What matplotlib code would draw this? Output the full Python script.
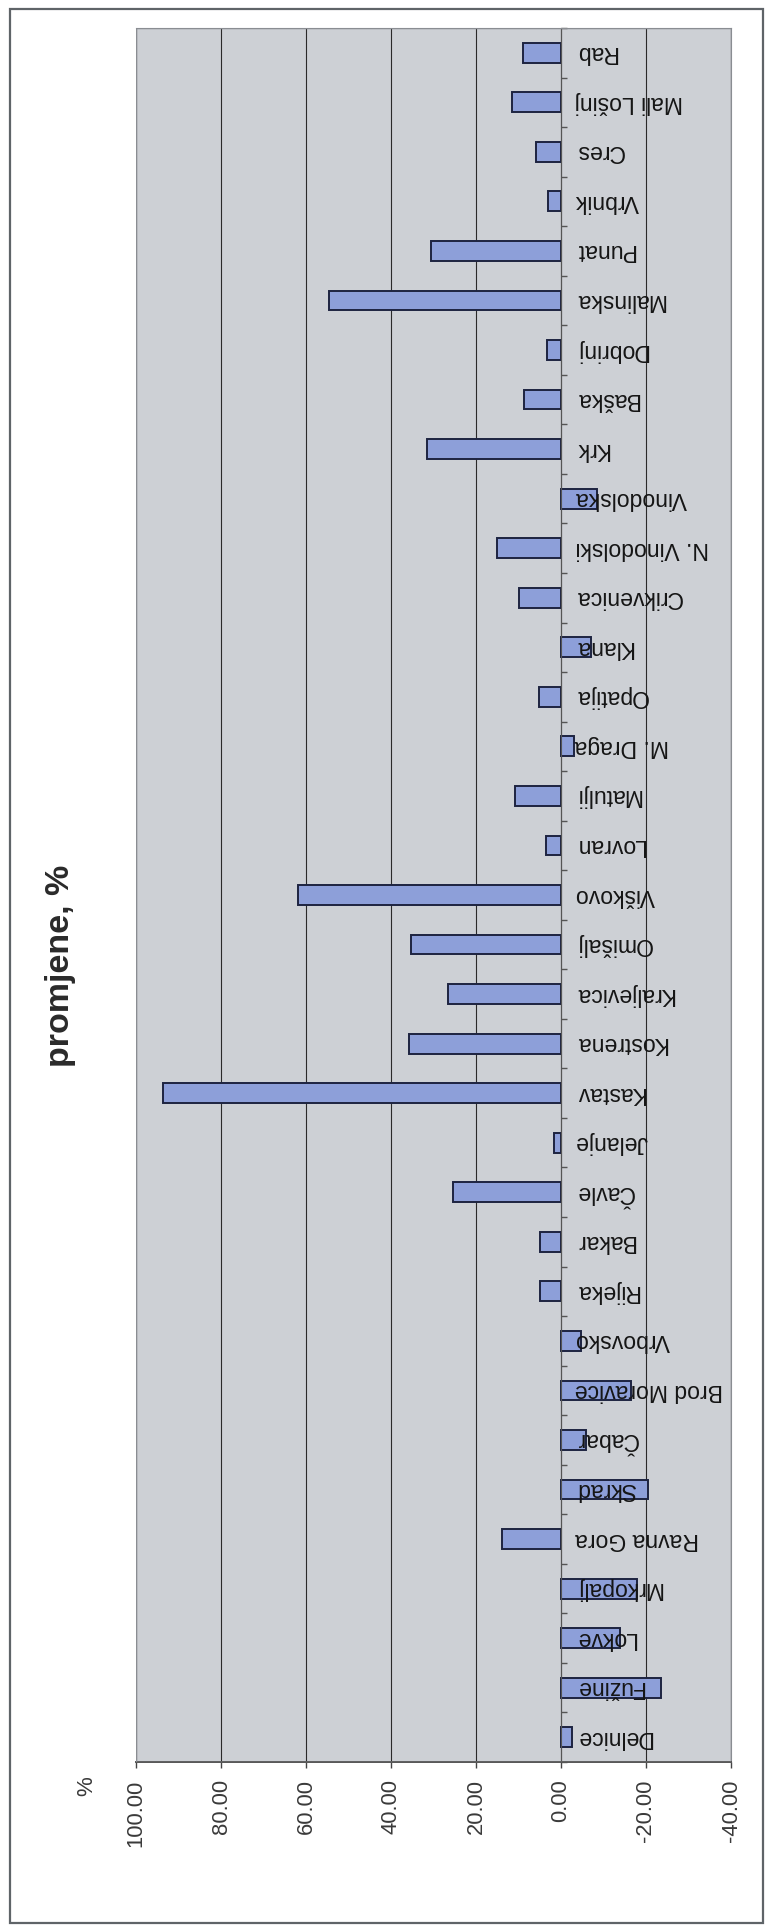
import matplotlib.pyplot as plt
from matplotlib import font_manager as fm
from matplotlib.patches import Rectangle
import numpy as np


def font_file(name):
    for f in fm.findSystemFonts():
        if f.endswith(name):
            return f
    return None


# obicni Liberation Sans, ne Narrow
reg = font_file('LiberationSans-Regular.ttf')
bold = font_file('LiberationSans-Bold.ttf')
fp = fm.FontProperties(fname=reg) if reg else fm.FontProperties(family='DejaVu Sans')
fpb = fm.FontProperties(fname=bold) if bold else fm.FontProperties(family='DejaVu Sans', weight='bold')

opcine = ['Delnice', 'Fužine', 'Lokve', 'Mrkopalj', 'Ravna Gora', 'Skrad', 'Čabar',
          'Brod Moravice', 'Vrbovsko', 'Rijeka', 'Bakar', 'Čavle', 'Jelanje', 'Kastav',
          'Kostrena', 'Kraljevica', 'Omišalj', 'Viškovo', 'Lovran', 'Matulji', 'M. Draga',
          'Opatija', 'Klana', 'Crikvenica', 'N. Vinodolski', 'Vinodolska', 'Krk', 'Baška',
          'Dobrinj', 'Malinska', 'Punat', 'Vrbnik', 'Cres', 'Mali Lošinj', 'Rab']
promjene = [-2.5, -23.5, -13.9, -17.8, 13.9, -20.4, -5.8,
            -16.4, -4.8, 4.9, 4.9, 25.5, 1.6, 93.7,
            35.8, 26.6, 35.4, 61.9, 3.5, 10.8, -3.0,
            5.2, -7.0, 9.9, 15.0, -8.4, 31.6, 8.7,
            3.4, 54.5, 30.6, 3.0, 6.0, 11.5, 9.0]
ticks = [100, 80, 60, 40, 20, 0, -20, -40]

W, H = 766, 1926
fig = plt.figure(figsize=(W / 100, H / 100), dpi=100)

# okvir oko cijelog grafikona
fig.patches.append(Rectangle((10 / W, 1 - 1923 / H), 753 / W, 1914 / H,
                             transform=fig.transFigure, fill=False,
                             edgecolor='#5f6468', linewidth=1.6))

ax = fig.add_axes([136 / W, 1 - 1762 / H, 595 / W, 1734 / H])
ax.set_facecolor('#cdd0d5')

y = np.arange(len(opcine))
ax.barh(y, promjene, height=0.4, color='#8d9fd9', edgecolor='#1d2340',
        linewidth=1.4, zorder=3)

ax.set_xlim(100, -40)
ax.set_ylim(-0.5, len(opcine) - 0.5)
ax.set_xticks(ticks)
ax.set_xticklabels(['%.2f' % t for t in ticks], rotation=90, color='#3a3a3a',
                   va='top', fontproperties=fp, fontsize=15.8)
ax.tick_params(axis='x', length=4.5, width=1, color='#444', pad=8)
ax.grid(axis='x', color='#2a2a2a', linewidth=0.8, zorder=1)

# os kategorija na nuli, crtice izmedju opcina
ax.spines['left'].set_position(('data', 0))
ax.spines['left'].set_color('#555')
ax.spines['left'].set_zorder(4)
ax.set_yticks(np.arange(len(opcine) + 1) - 0.5)
ax.set_yticklabels([])
ax.tick_params(axis='y', direction='in', length=4, width=1, color='#555')

ax.spines['top'].set_color('#8a8d92')
ax.spines['right'].set_color('#8a8d92')
ax.spines['bottom'].set_color('#555')
ax.spines['bottom'].set_linewidth(1.4)
ax.add_patch(Rectangle((0, 0), 1, 1, transform=ax.transAxes, fill=False,
                       edgecolor='#8a8d92', linewidth=1, zorder=5))

for i, ime in enumerate(opcine):
    ax.text(-3.3, i, ime, rotation=180, ha='left', va='center',
            fontproperties=fp, fontsize=16.6, color='#151515', zorder=6)

fig.text(87 / W, 1 - 1786 / H, '%', rotation=90, ha='center', va='center',
         fontproperties=fp, fontsize=16, color='#3a3a3a')
fig.text(60 / W, 1 - 966 / H, 'promjene, %', rotation=90, ha='center', va='center',
         fontproperties=fpb, fontsize=24.5, color='#2a2a2a')

plt.savefig('out.png', dpi=100)
